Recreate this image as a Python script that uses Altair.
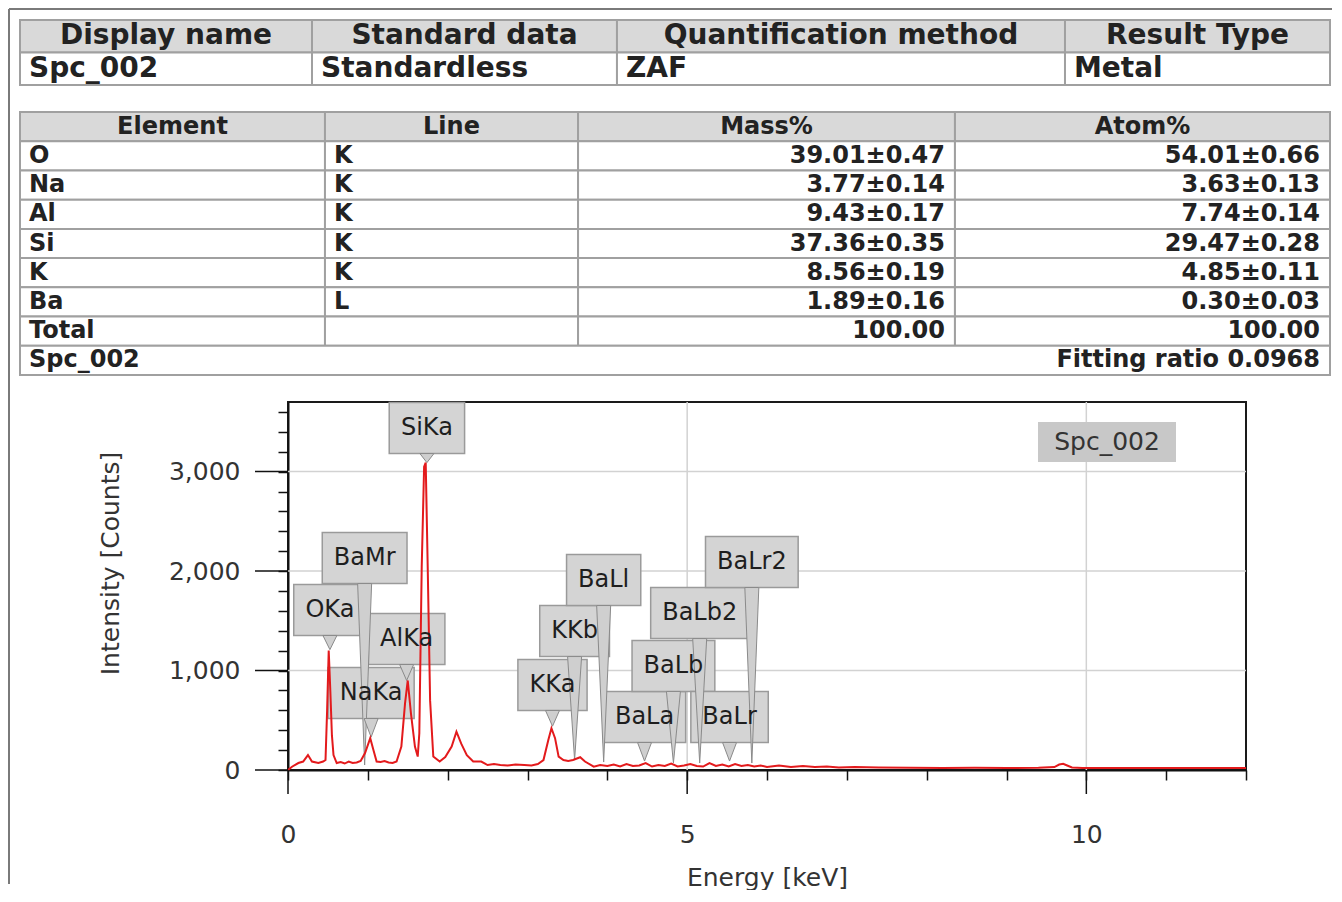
import altair as alt
import pandas as pd

# ---------------- data ----------------
info_headers = ["Display name", "Standard data", "Quantification method", "Result Type"]
info_values = ["Spc_002", "Standardless", "ZAF", "Metal"]

element_headers = ["Element", "Line", "Mass%", "Atom%"]
elements = ["O", "Na", "Al", "Si", "K", "Ba"]
xray_lines = ["K", "K", "K", "K", "K", "L"]
mass_pct = ["39.01±0.47", "3.77±0.14", "9.43±0.17", "37.36±0.35", "8.56±0.19", "1.89±0.16"]
atom_pct = ["54.01±0.66", "3.63±0.13", "7.74±0.14", "29.47±0.28", "4.85±0.11", "0.30±0.03"]
total_label = "Total"
total_mass = "100.00"
total_atom = "100.00"
spectrum_name = "Spc_002"
fitting_ratio = "Fitting ratio 0.0968"

energy_kev = [
    0.00, 0.05, 0.13, 0.19, 0.25, 0.30, 0.38, 0.44,
    0.47, 0.49, 0.51, 0.53, 0.55, 0.57, 0.61, 0.66,
    0.71, 0.76, 0.81, 0.86, 0.91, 0.965, 1.03, 1.07,
    1.11, 1.16, 1.21, 1.26, 1.31, 1.36, 1.42, 1.466,
    1.50, 1.54, 1.59, 1.625, 1.645, 1.675, 1.705, 1.725,
    1.75, 1.78, 1.82, 1.90, 1.97, 2.05, 2.11, 2.17,
    2.24, 2.32, 2.42, 2.50, 2.58, 2.66, 2.75, 2.85,
    2.96, 3.05, 3.13, 3.20, 3.26, 3.30, 3.345, 3.39,
    3.45, 3.51, 3.57, 3.66, 3.72, 3.83, 3.91, 4.00,
    4.08, 4.16, 4.24, 4.32, 4.40, 4.48, 4.56, 4.64,
    4.72, 4.80, 4.88, 4.96, 5.04, 5.12, 5.20, 5.28,
    5.36, 5.44, 5.52, 5.60, 5.68, 5.76, 5.84, 5.92,
    6.00, 6.15, 6.30, 6.45, 6.60, 6.75, 6.90, 7.10,
    7.40, 7.80, 8.20, 8.60, 9.00, 9.40, 9.60, 9.66,
    9.71, 9.76, 9.82, 9.95, 10.30, 10.80, 11.30, 11.80,
    12.00,
]
intensity_counts = [
    0, 33, 70, 85, 150, 85, 70, 85,
    100, 600, 1200, 800, 350, 150, 70, 80,
    65, 85, 70, 75, 90, 170, 320, 200,
    85, 80, 90, 75, 70, 85, 235, 670,
    900, 570, 235, 135, 370, 2040, 3050, 3090,
    2040, 700, 135, 85, 130, 235, 385, 265,
    150, 85, 85, 50, 60, 50, 45, 55,
    50, 45, 60, 100, 300, 420, 320, 135,
    100, 90, 100, 128, 85, 33, 50, 40,
    55, 35, 60, 40, 45, 70, 35, 50,
    40, 65, 35, 45, 60, 40, 35, 70,
    40, 55, 35, 60, 40, 50, 35, 45,
    30, 45, 30, 40, 30, 35, 25, 30,
    25, 22, 20, 22, 20, 22, 30, 55,
    62, 45, 25, 20, 20, 20, 20, 20,
    20,
]

peak_labels = ["SiKa", "BaMr", "OKa", "AlKa", "NaKa", "KKa", "KKb",
               "BaLl", "BaLa", "BaLb", "BaLb2", "BaLr", "BaLr2"]
peak_energy = [1.74, 0.96, 0.525, 1.486, 1.041, 3.313, 3.59,
               3.954, 4.466, 4.828, 5.157, 5.531, 5.81]
peak_tip = [3090, 50, 1210, 900, 330, 440, 100, 80, 90, 70, 70, 90, 70]
label_level = [3438, 2131, 1609, 1317, 774, 855, 1397, 1910, 533, 1046, 1578, 533, 2091]

major_x_ticks = [0, 5, 10]
major_y_ticks = [0, 1000, 2000, 3000]
grid_x = [5, 10]
grid_y = [1000, 2000, 3000]

# ---------------- layout / style ----------------
FONT = "DejaVu Sans"
W, H = 958, 368
X_MAX, Y_MAX = 12, 3700
OX, OY = 288, 402            # page position of the plot origin
KEV_PER_PX = X_MAX / W
CNT_PER_PX = Y_MAX / H

T_LEFT, T_RIGHT = 20, 1330
INFO_TOP, INFO_BOTTOM = 20, 85
ELEM_TOP, ELEM_BOTTOM = 112, 375
info_cols = [0.0, 0.2229, 0.4557, 0.7977, 1.0]
elem_cols = [0.0, 0.2328, 0.4260, 0.7137, 1.0]
HEAD_FILL = "#d9d9d9"
CELL_STROKE = "#a0a0a0"
TEXT_COLOR = "#222222"


def page_x(px):
    """page pixel column -> energy units of the shared x scale"""
    return (px - OX) * KEV_PER_PX


def page_y(py):
    """page pixel row -> count units of the shared y scale"""
    return (OY + H - py) * CNT_PER_PX


xs = alt.Scale(domain=[0, X_MAX], nice=False, zero=False)
ys = alt.Scale(domain=[0, Y_MAX], nice=False, zero=False)

x_axis = alt.Axis(values=list(range(0, X_MAX + 1)), tickSize=10,
                  labelExpr="datum.value % 5 === 0 ? datum.label : ''",
                  labelFlush=False, labelOverlap=False, labelPadding=42, grid=False,
                  title="Energy [keV]", titlePadding=18)
y_axis = alt.Axis(values=list(range(0, Y_MAX, 200)), format=",d", tickSize=10,
                  labelExpr="datum.value % 1000 === 0 ? datum.label : ''",
                  labelOverlap=False, labelPadding=38, grid=False,
                  title="Intensity [Counts]", titlePadding=45, titleY=161)


def X(f):
    return alt.X(f, type="quantitative", scale=xs, axis=x_axis)


def Y(f):
    return alt.Y(f, type="quantitative", scale=ys, axis=y_axis)


def table_layers(cells, texts, font_size):
    layers = []
    for kind, fill in (("head", HEAD_FILL), ("body", "#ffffff")):
        d = cells[cells["kind"] == kind]
        if len(d):
            layers.append(
                alt.Chart(d).mark_rect(fill=fill, stroke=CELL_STROKE, strokeWidth=2).encode(
                    x=X("x0"), x2=alt.X2("x1"), y=Y("y0"), y2=alt.Y2("y1")
                )
            )
    for align, dx in (("left", 9), ("center", 0), ("right", -10)):
        d = texts[texts["align"] == align]
        if len(d):
            layers.append(
                alt.Chart(d).mark_text(
                    align=align, baseline="middle", dx=dx, font=FONT,
                    fontSize=font_size, fontWeight="bold", color=TEXT_COLOR
                ).encode(x=X("x"), y=Y("y"), text="text:N")
            )
    return layers


def col_x(frac):
    return page_x(T_LEFT + frac * (T_RIGHT - T_LEFT))


def row_y(top, bottom, n, r):
    return page_y(top + r * (bottom - top) / n)


# ---- table 1 ----
t1_cells, t1_texts = [], []
for r in (0, 1):
    for i in range(4):
        t1_cells.append({"x0": col_x(info_cols[i]), "x1": col_x(info_cols[i + 1]),
                         "y0": row_y(INFO_TOP, INFO_BOTTOM, 2, r),
                         "y1": row_y(INFO_TOP, INFO_BOTTOM, 2, r + 1),
                         "kind": "head" if r == 0 else "body"})
for i in range(4):
    t1_texts.append({"x": col_x((info_cols[i] + info_cols[i + 1]) / 2),
                     "y": row_y(INFO_TOP, INFO_BOTTOM, 2, 0.5),
                     "text": info_headers[i], "align": "center"})
    t1_texts.append({"x": col_x(info_cols[i]), "y": row_y(INFO_TOP, INFO_BOTTOM, 2, 1.5),
                     "text": info_values[i], "align": "left"})
table1 = table_layers(pd.DataFrame(t1_cells), pd.DataFrame(t1_texts), 28)

# ---- table 2 ----
body_rows = [[e, l, m, a] for e, l, m, a in zip(elements, xray_lines, mass_pct, atom_pct)]
body_rows.append([total_label, "", total_mass, total_atom])
NROWS = len(body_rows) + 2
cells2, texts2 = [], []


def ry(r):
    return row_y(ELEM_TOP, ELEM_BOTTOM, NROWS, r)


for i in range(4):
    cells2.append({"x0": col_x(elem_cols[i]), "x1": col_x(elem_cols[i + 1]),
                   "y0": ry(0), "y1": ry(1), "kind": "head"})
    texts2.append({"x": col_x((elem_cols[i] + elem_cols[i + 1]) / 2), "y": ry(0.5),
                   "text": element_headers[i], "align": "center"})
for r, row in enumerate(body_rows, start=1):
    for i, val in enumerate(row):
        cells2.append({"x0": col_x(elem_cols[i]), "x1": col_x(elem_cols[i + 1]),
                       "y0": ry(r), "y1": ry(r + 1), "kind": "body"})
        if val:
            if i < 2:
                texts2.append({"x": col_x(elem_cols[i]), "y": ry(r + 0.5), "text": val, "align": "left"})
            else:
                texts2.append({"x": col_x(elem_cols[i + 1]), "y": ry(r + 0.5), "text": val, "align": "right"})
foot = NROWS - 1
cells2.append({"x0": col_x(0.0), "x1": col_x(1.0), "y0": ry(foot), "y1": ry(foot + 1), "kind": "body"})
texts2.append({"x": col_x(0.0), "y": ry(foot + 0.5), "text": spectrum_name, "align": "left"})
texts2.append({"x": col_x(1.0), "y": ry(foot + 0.5), "text": fitting_ratio, "align": "right"})
table2 = table_layers(pd.DataFrame(cells2), pd.DataFrame(texts2), 24)

# ---- spectrum ----
CHAR_W = {"S": 0.635, "i": 0.278, "K": 0.656, "a": 0.613, "B": 0.686, "M": 0.863, "r": 0.411,
          "O": 0.787, "A": 0.684, "l": 0.278, "N": 0.748, "b": 0.635, "L": 0.557, "2": 0.636}
LABEL_SIZE = 24

spec_df = pd.DataFrame({"energy": energy_kev, "counts": intensity_counts})
spec_df["series"] = spectrum_name

boxes, pointers = [], []
for lbl, e, tip, lvl in zip(peak_labels, peak_energy, peak_tip, label_level):
    half_w = (sum(CHAR_W.get(c, 0.62) for c in lbl) * LABEL_SIZE + 23) / 2 * KEV_PER_PX
    half_h = 25.5 * CNT_PER_PX
    boxes.append({"label": lbl, "e": e, "lvl": lvl, "x0": e - half_w, "x1": e + half_w,
                  "y0": lvl - half_h, "y1": lvl + half_h})
    ph = 7 * KEV_PER_PX
    pointers.append({"label": lbl, "y": lvl - half_h, "xa": e - ph, "xb": e + ph})
    pointers.append({"label": lbl, "y": tip, "xa": e, "xb": e})
boxes = pd.DataFrame(boxes)
pointers = pd.DataFrame(pointers)

# series key box (top-right of the plot)
KEY_CX, KEY_CY, KEY_W, KEY_H = 1107, 442, 138, 40
key_df = pd.DataFrame([{
    "name": spectrum_name, "x": page_x(KEY_CX), "y": page_y(KEY_CY),
    "x0": page_x(KEY_CX - KEY_W / 2), "x1": page_x(KEY_CX + KEY_W / 2),
    "y0": page_y(KEY_CY - KEY_H / 2), "y1": page_y(KEY_CY + KEY_H / 2)}])

grid_v = alt.Chart(pd.DataFrame({"g": grid_x})).mark_rule(color="#d2d2d2", strokeWidth=1.5).encode(
    x=X("g"), y=alt.value(0), y2=alt.value(H))
grid_h = alt.Chart(pd.DataFrame({"g": grid_y})).mark_rule(color="#d2d2d2", strokeWidth=1.5).encode(
    y=Y("g"), x=alt.value(0), x2=alt.value(W))

box_layer = alt.Chart(boxes).mark_rect(fill="#d4d4d4", stroke="#9a9a9a", strokeWidth=1.5).encode(
    x=X("x0"), x2=alt.X2("x1"), y=Y("y0"), y2=alt.Y2("y1"))
pointer_layer = alt.Chart(pointers).mark_area(
    orient="horizontal", fill="#cfcfcf", stroke="#8a8a8a", strokeWidth=1).encode(
    y=Y("y"), x=X("xa"), x2=alt.X2("xb"), detail="label:N")
line_layer = alt.Chart(spec_df).mark_line(strokeWidth=2).encode(
    x=X("energy"), y=Y("counts"),
    color=alt.Color("series:N", scale=alt.Scale(domain=[spectrum_name], range=["#e31a1c"]), legend=None))
label_text = alt.Chart(boxes).mark_text(font=FONT, fontSize=LABEL_SIZE, color="#1e1e1e",
                                        align="center", baseline="middle").encode(
    x=X("e"), y=Y("lvl"), text="label:N")
key_box = alt.Chart(key_df).mark_rect(fill="#c8c8c8").encode(
    x=X("x0"), x2=alt.X2("x1"), y=Y("y0"), y2=alt.Y2("y1"))
key_text = alt.Chart(key_df).mark_text(font=FONT, fontSize=25, color="#333333",
                                       align="center", baseline="middle").encode(
    x=X("x"), y=Y("y"), text="name:N")

xmaj = alt.Chart(pd.DataFrame({"v": major_x_ticks})).mark_rule(color="#111111", strokeWidth=1.5).encode(
    x=X("v"), y=alt.value(H), y2=alt.value(H + 24))
ymaj = alt.Chart(pd.DataFrame({"v": major_y_ticks})).mark_rule(color="#111111", strokeWidth=1.5).encode(
    y=Y("v"), x=alt.value(-33), x2=alt.value(0))

one = pd.DataFrame({"k": [0]})
frame_top = alt.Chart(one).mark_rule(color="#7a7a7a", strokeWidth=2).encode(
    x=alt.value(9 - OX), x2=alt.value(T_RIGHT + 2 - OX), y=alt.value(9 - OY))
frame_left = alt.Chart(one).mark_rule(color="#7a7a7a", strokeWidth=2).encode(
    x=alt.value(9 - OX), y=alt.value(9 - OY), y2=alt.value(884 - OY))

chart = (
    alt.layer(*table1, *table2, grid_v, grid_h, box_layer, pointer_layer, line_layer, label_text,
              key_box, key_text, xmaj, ymaj, frame_top, frame_left)
    .properties(width=W, height=H, padding=0, background="white")
    .configure_view(stroke="#1a1a1a", strokeWidth=2)
    .configure_axis(domainColor="#111111", domainWidth=2, tickColor="#111111", tickWidth=1.5,
                    labelFont=FONT, labelFontSize=25, labelColor="#333333",
                    titleFont=FONT, titleFontSize=25, titleFontWeight="normal", titleColor="#333333")
)

chart.save("out.html", embed_options={"renderer": "svg", "actions": False})
